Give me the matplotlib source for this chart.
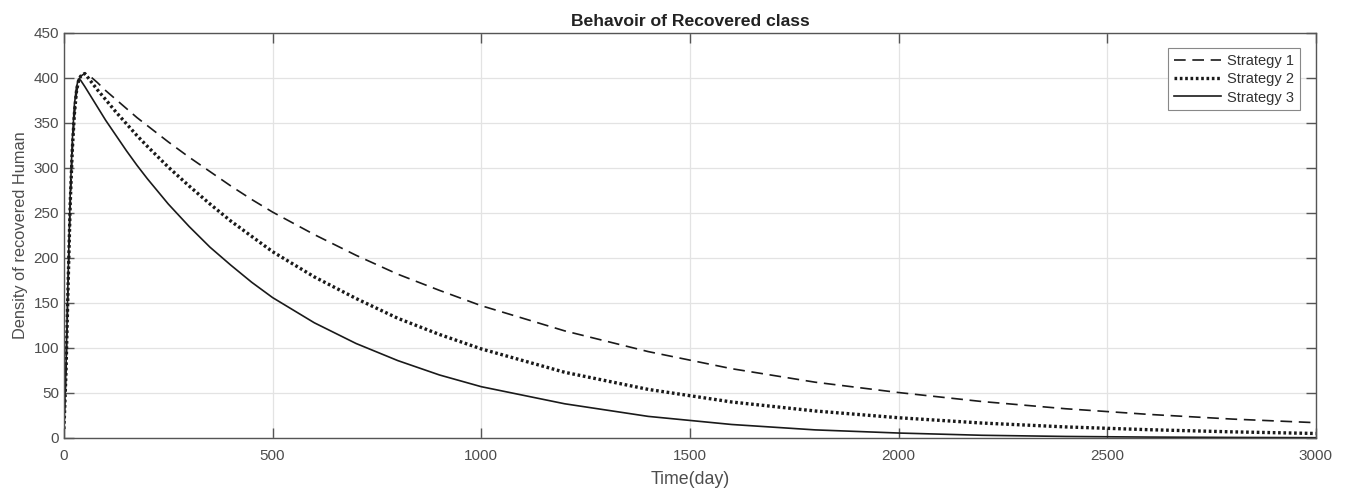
import numpy as np
import matplotlib.pyplot as plt

plt.rcParams['font.family'] = ['Liberation Sans', 'DejaVu Sans']

# ---------------- Data ----------------
t = [0, 5, 10, 15, 20, 25, 30, 35, 40, 50, 60, 80, 100, 125, 150, 175, 200,
     250, 300, 350, 400, 450, 500, 600, 700, 800, 900, 1000, 1200, 1400,
     1600, 1800, 2000, 2200, 2400, 2600, 2800, 3000]

strategy1 = [10, 75, 170, 258, 318, 358, 383, 396, 402, 405, 403, 395, 386,
             376, 366, 356, 347, 329, 312, 296, 280, 265, 251, 226, 203, 182,
             164, 147, 119, 96, 77, 62, 50.5, 40.5, 32.5, 26.2, 21, 17]
strategy2 = [10, 75, 170, 260, 320, 360, 385, 397, 402, 405, 399, 387, 376,
             362, 349, 336, 324, 301, 280, 260, 241, 224, 207, 179, 155, 133,
             115, 99, 73, 54, 40, 30, 22.5, 16.6, 12.3, 9.2, 6.8, 5]
strategy3 = [10, 80, 180, 270, 330, 370, 390, 399, 397.5, 390.5, 383, 368,
             353, 336, 319, 303, 288, 260, 235, 212, 192, 173, 156, 128, 105,
             86, 70, 57, 38, 24, 15, 9, 5.5, 3, 1.7, 1, 0.6, 0.3]

labels = ["Strategy 1", "Strategy 2", "Strategy 3"]

# ---------------- Plot ----------------
fig = plt.figure(figsize=(13.49, 4.94), dpi=100)
ax = fig.add_axes([0.0474, 0.1134, 0.928, 0.8198])

line_col = "#1a1a1a"
ax.plot(t, strategy1, color=line_col, lw=1.2, linestyle=(0, (7, 4)), label=labels[0])
ax.plot(t, strategy2, color=line_col, lw=2.4, linestyle=(0, (0.8, 0.8)), label=labels[1])
ax.plot(t, strategy3, color=line_col, lw=1.2, linestyle="-", label=labels[2])

ax.set_xlim(0, 3000)
ax.set_ylim(0, 450)
ax.set_xticks(np.arange(0, 3001, 500))
ax.set_yticks(np.arange(0, 451, 50))

ax.grid(True, color="#e3e3e3", lw=0.9)
ax.set_axisbelow(True)

axis_col = "#555555"
for s in ax.spines.values():
    s.set_color(axis_col)
    s.set_linewidth(1.0)
ax.tick_params(direction="in", top=True, right=True, length=7, width=1.0,
               colors=axis_col, labelsize=11, labelcolor="#4d4d4d")
ax.tick_params(axis="x", pad=8)

ax.set_xlabel("Time(day)", fontsize=12.8, color="#4d4d4d", labelpad=6)
ax.set_ylabel("Density of recovered Human", fontsize=11.8, color="#4d4d4d")
ax.set_title("Behavoir of Recovered class", fontsize=12.6, fontweight="bold",
             color="#222222", pad=5)

leg = ax.legend(loc="upper right", bbox_to_anchor=(0.987, 0.963), fontsize=10.5,
                fancybox=False, framealpha=1, edgecolor="#888888",
                handlelength=3.2, borderpad=0.4, labelspacing=0.3,
                handletextpad=0.4, borderaxespad=0)
leg.get_frame().set_linewidth(0.8)
for txt in leg.get_texts():
    txt.set_color("#333333")

fig.savefig("out.png", dpi=100)
